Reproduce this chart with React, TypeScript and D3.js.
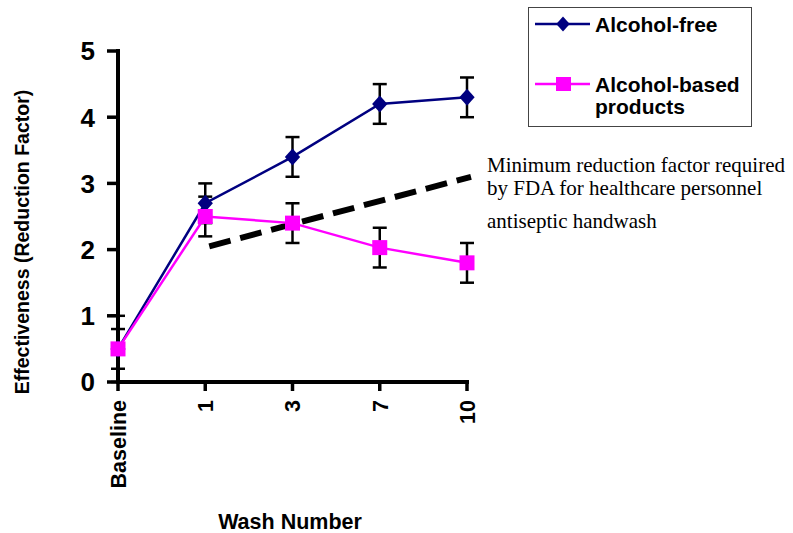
import React from 'react';
import * as d3 from 'd3';

const washes = ['Baseline', '1', '3', '7', '10'];
const alcoholFree = [0.5, 2.7, 3.4, 4.2, 4.3];
const alcoholFreeErr = [0.3, 0.3, 0.3, 0.3, 0.3];
const alcoholBased = [0.5, 2.5, 2.4, 2.03, 1.8];
const alcoholBasedErr = [0.5, 0.3, 0.3, 0.3, 0.3];
const fdaWashes = ['1', '10'];
const fdaMinimum = [2.05, 3.1];
const yTicks = [0, 1, 2, 3, 4, 5];
const noteLines = [
  'Minimum reduction factor required',
  'by FDA for healthcare personnel',
  'antiseptic handwash',
];

const NAVY = '#000080';
const PINK = '#FF00FF';
const SANS = '"Liberation Sans", Arial, sans-serif';
const SERIF = '"Liberation Serif", "Times New Roman", serif';

const diamond = (s: number) => `M0,${-s} L${s * 0.9},0 L0,${s} L${-s * 0.9},0Z`;

const App = () => {
  const width = 793;
  const height = 533;

  const x = d3.scalePoint<string>().domain(washes).range([118, 467]).padding(0);
  const y = d3.scaleLinear().domain([0, 5]).range([382, 51]);

  const line = d3
    .line<number>()
    .x((_, i) => x(washes[i]) as number)
    .y(d => y(d));

  const errBars = (vals: number[], errs: number[], key: string) =>
    vals.map((v, i) => {
      const cx = x(washes[i]) as number;
      const lo = y(Math.max(0, v - errs[i]));
      const hi = y(v + errs[i]);
      return (
        <g key={key + i} stroke="#000" strokeWidth={2.5}>
          <line x1={cx} x2={cx} y1={lo} y2={hi} />
          <line x1={cx - 7} x2={cx + 7} y1={hi} y2={hi} />
          <line x1={cx - 7} x2={cx + 7} y1={lo} y2={lo} />
        </g>
      );
    });

  const fdaLine = d3
    .line<number>()
    .x((_, i) => x(fdaWashes[i]) as number)
    .y(d => y(d));

  return (
    <svg
      width={width}
      height={height}
      style={{ position: 'absolute', left: 0, top: 0, background: '#fff' }}
    >
      {/* axes */}
      <g stroke="#000" strokeWidth={4} strokeLinecap="square">
        <line x1={118} x2={118} y1={y(5)} y2={y(0)} />
        <line x1={118} x2={x('10') as number} y1={y(0)} y2={y(0)} />
      </g>
      {yTicks.map(t => (
        <g key={'yt' + t}>
          <line x1={107} x2={118} y1={y(t)} y2={y(t)} stroke="#000" strokeWidth={3.5} />
          <text
            x={95}
            y={y(t)}
            dy="0.36em"
            textAnchor="end"
            fontFamily={SANS}
            fontWeight="bold"
            fontSize={26}
          >
            {t}
          </text>
        </g>
      ))}
      {washes.map(w => (
        <g key={'xt' + w} transform={`translate(${x(w)},${y(0)})`}>
          <line y1={0} y2={9} stroke="#000" strokeWidth={3.5} />
          <text
            transform="translate(0,18) rotate(-90)"
            dy="0.36em"
            textAnchor="end"
            fontFamily={SANS}
            fontWeight="bold"
            fontSize={21.5}
          >
            {w}
          </text>
        </g>
      ))}
      <text
        transform="translate(22,242) rotate(-90)"
        dy="0.36em"
        textAnchor="middle"
        fontFamily={SANS}
        fontWeight="bold"
        fontSize={19.5}
      >
        Effectiveness (Reduction Factor)
      </text>
      <text
        x={290}
        y={529}
        textAnchor="middle"
        fontFamily={SANS}
        fontWeight="bold"
        fontSize={21.5}
      >
        Wash Number
      </text>

      {/* FDA minimum */}
      <path
        d={fdaLine(fdaMinimum) as string}
        fill="none"
        stroke="#000"
        strokeWidth={6}
        strokeDasharray="22,10"
        transform="translate(4,0)"
      />
      {noteLines.map((t, i) => (
        <text
          key={'n' + i}
          x={487}
          y={[172, 195, 228][i]}
          fontFamily={SERIF}
          fontSize={21}
        >
          {t}
        </text>
      ))}

      {/* series */}
      {errBars(alcoholFree, alcoholFreeErr, 'ef')}
      {errBars(alcoholBased, alcoholBasedErr, 'eb')}
      <path d={line(alcoholFree) as string} fill="none" stroke={NAVY} strokeWidth={2.5} />
      <path d={line(alcoholBased) as string} fill="none" stroke={PINK} strokeWidth={2.5} />
      {alcoholFree.map((v, i) => (
        <path
          key={'df' + i}
          d={diamond(8.5)}
          fill={NAVY}
          transform={`translate(${x(washes[i])},${y(v)})`}
        />
      ))}
      {alcoholBased.map((v, i) => (
        <rect
          key={'sb' + i}
          x={(x(washes[i]) as number) - 7.5}
          y={y(v) - 7.5}
          width={15}
          height={15}
          fill={PINK}
        />
      ))}

      {/* legend */}
      <rect x={528.5} y={7.5} width={223} height={119} fill="none" stroke="#444" strokeWidth={1} />
      <line x1={535} x2={590} y1={24} y2={24} stroke={NAVY} strokeWidth={2.5} />
      <path d={diamond(7.5)} fill={NAVY} transform="translate(563,24)" />
      <text x={595} y={32} fontFamily={SANS} fontWeight="bold" fontSize={21}>
        Alcohol-free
      </text>
      <line x1={535} x2={590} y1={84} y2={84} stroke={PINK} strokeWidth={2.5} />
      <rect x={556} y={77} width={15} height={14} fill={PINK} />
      <text x={595} y={92} fontFamily={SANS} fontWeight="bold" fontSize={21}>
        Alcohol-based
      </text>
      <text x={595} y={114} fontFamily={SANS} fontWeight="bold" fontSize={21}>
        products
      </text>
    </svg>
  );
};

export default App;
